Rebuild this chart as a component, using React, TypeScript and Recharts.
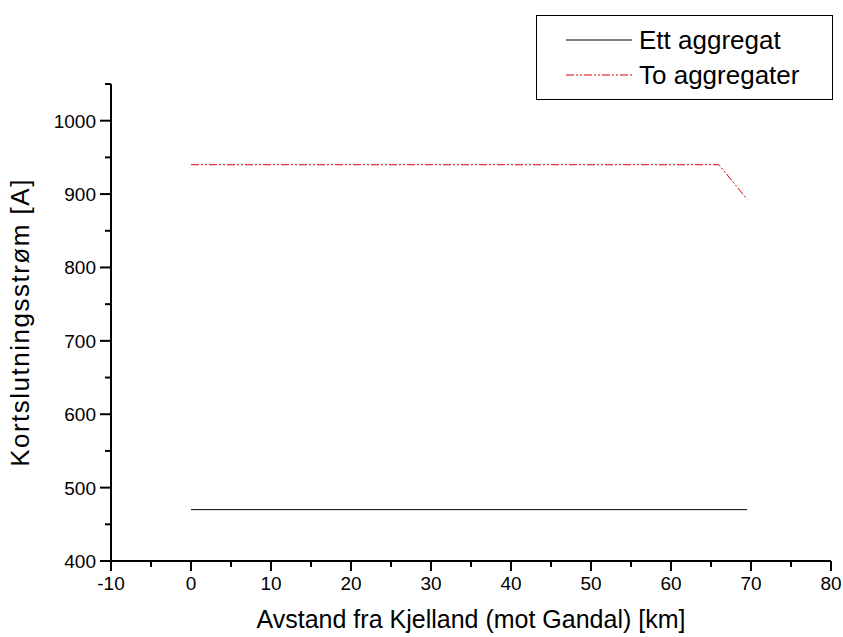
import React from 'react';
import { LineChart, Line, XAxis, YAxis } from 'recharts';

// distance along the line [km] and short-circuit current [A]
const ettDistance = [0, 69.5];
const ettCurrent = [470, 470];
const toDistance = [0, 66, 69.5];
const toCurrent = [940, 940, 893];

const xTicks = [-10, -5, 0, 5, 10, 15, 20, 25, 30, 35, 40, 45, 50, 55, 60, 65, 70, 75, 80];
const yTicks = [400, 450, 500, 550, 600, 650, 700, 750, 800, 850, 900, 950, 1000, 1050];

const ettData = ettDistance.map((km, i) => ({ km, value: ettCurrent[i] }));
const toData = toDistance.map((km, i) => ({ km, value: toCurrent[i] }));

const FONT = 'Liberation Sans, Arial, sans-serif';
const RED = '#e00000';
const RED_DASH = '8 2 2 2 2 2';

const XTick = ({ x, y, payload }: any) => {
  const major = payload.value % 10 === 0;
  return (
    <g>
      <line x1={x} x2={x} y1={y} y2={y + (major ? 10 : 6)} stroke="#000" strokeWidth={2} />
      {major && (
        <text x={x} y={y + 29} textAnchor="middle" fontSize={19} fontFamily={FONT} fill="#000">
          {payload.value}
        </text>
      )}
    </g>
  );
};

const YTick = ({ x, y, payload }: any) => {
  const major = payload.value % 100 === 0;
  return (
    <g>
      <line x1={x - (major ? 11 : 6)} x2={x} y1={y} y2={y} stroke="#000" strokeWidth={2} />
      {major && (
        <text x={x - 15} y={y + 7} textAnchor="end" fontSize={19} fontFamily={FONT} fill="#000">
          {payload.value}
        </text>
      )}
    </g>
  );
};

const LegendBox = () => (
  <svg width={297} height={85} style={{ position: 'absolute', left: 536, top: 15 }}>
    <rect x={0.5} y={0.5} width={296} height={84} fill="#fff" stroke="#000" strokeWidth={1} />
    <line x1={30} x2={96} y1={25} y2={25} stroke="#000" strokeWidth={1} />
    <text x={103} y={34} fontSize={26} fontFamily={FONT} fill="#000">Ett aggregat</text>
    <line x1={30} x2={96} y1={60} y2={60} stroke={RED} strokeWidth={1} strokeDasharray={RED_DASH} />
    <text x={103} y={69} fontSize={26} fontFamily={FONT} fill="#000">To aggregater</text>
  </svg>
);

export default function App() {
  return (
    <div style={{ position: 'absolute', left: 0, top: 0, width: 843, height: 637, background: '#fff' }}>
      <LineChart width={843} height={637} margin={{ top: 84, right: 12, bottom: 0, left: 0 }}>
        <XAxis
          type="number"
          dataKey="km"
          domain={[-10, 80]}
          ticks={xTicks}
          interval={0}
          allowDataOverflow
          tick={<XTick />}
          tickLine={false}
          tickSize={0}
          tickMargin={0}
          height={76}
          axisLine={{ stroke: '#000', strokeWidth: 2 }}
          label={{
            value: 'Avstand fra Kjelland (mot Gandal) [km]',
            position: 'insideBottom',
            offset: 0,
            dy: -9,
            fontSize: 25,
            fontFamily: FONT,
            fill: '#000',
          }}
        />
        <YAxis
          type="number"
          domain={[400, 1050]}
          ticks={yTicks}
          interval={0}
          allowDataOverflow
          tick={<YTick />}
          tickLine={false}
          tickSize={0}
          tickMargin={0}
          width={111}
          axisLine={{ stroke: '#000', strokeWidth: 2 }}
          label={{
            value: 'Kortslutningsstrøm [A]',
            angle: -90,
            position: 'insideLeft',
            offset: 0,
            dx: 20,
            dy: 0,
            fontSize: 26,
            letterSpacing: 1.5,
            fontFamily: FONT,
            fill: '#000',
            style: { textAnchor: 'middle' },
          }}
        />
        <Line
          data={ettData}
          dataKey="value"
          name="Ett aggregat"
          stroke="#000"
          strokeWidth={1}
          dot={false}
          type="linear"
          isAnimationActive={false}
        />
        <Line
          data={toData}
          dataKey="value"
          name="To aggregater"
          stroke={RED}
          strokeWidth={1}
          strokeDasharray={RED_DASH}
          dot={false}
          type="linear"
          isAnimationActive={false}
        />
      </LineChart>
      <LegendBox />
    </div>
  );
}
